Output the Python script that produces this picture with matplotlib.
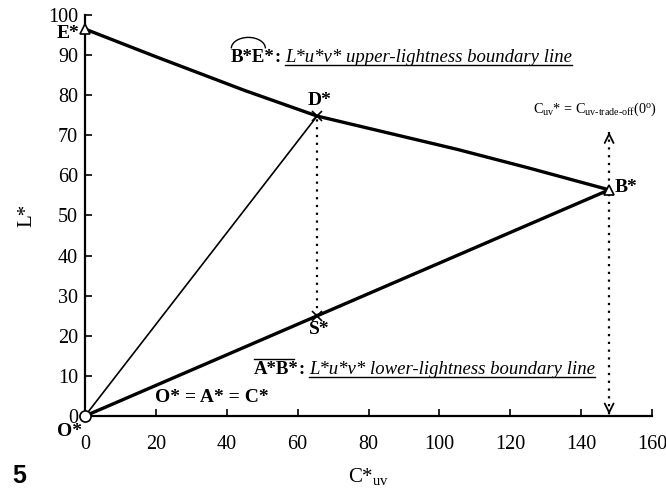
import matplotlib
matplotlib.use("Agg")
import matplotlib.pyplot as plt
from matplotlib.lines import Line2D
from matplotlib.patches import Arc

plt.rcParams['font.family'] = ['Liberation Serif', 'DejaVu Serif']
plt.rcParams['mathtext.fontset'] = 'custom'
plt.rcParams['mathtext.rm'] = 'Liberation Serif'
plt.rcParams['mathtext.it'] = 'Liberation Serif:italic'
plt.rcParams['mathtext.bf'] = 'Liberation Serif:bold'

# ---- data ----
upper_C = [0, 20, 45, 65.5, 85, 105, 125, 147.9]
upper_L = [96.5, 89.6, 81.2, 74.8, 70.7, 66.5, 61.9, 56.4]
lower_C = [0, 147.9]
lower_L = [0, 56.4]
OD_C = [0, 65.5]
OD_L = [0, 74.8]
point_names = ['E*', 'D*', 'B*', 'S*', 'O*']
point_C = [0, 65.5, 147.9, 65.5, 0]
point_L = [96.5, 74.8, 56.4, 24.9, 0]
tradeoff_C = 147.9
tradeoff_top = 70.8
xticks = [0, 20, 40, 60, 80, 100, 120, 140, 160]
yticks = [0, 10, 20, 30, 40, 50, 60, 70, 80, 90, 100]

fig = plt.figure(figsize=(6.66, 4.98), dpi=100)
ax = fig.add_axes([85/666, 1-416/498, (652-85)/666, (416-15)/498])
ax.set_xlim(0, 160)
ax.set_ylim(0, 100)
for s in ['top', 'right']:
    ax.spines[s].set_visible(False)
for s in ['left', 'bottom']:
    ax.spines[s].set_linewidth(1.6)
ax.set_xticks(xticks)
ax.set_yticks(yticks)
ax.tick_params(axis='both', direction='in', length=5, width=1.2, labelsize=14.5)
ax.tick_params(axis='x', pad=14)
ax.tick_params(axis='y', pad=5)

ax.plot(upper_C, upper_L, color='black', lw=2.4, solid_joinstyle='round', zorder=3)
ax.plot(lower_C, lower_L, color='black', lw=2.4, zorder=3)
ax.plot(OD_C, OD_L, color='black', lw=1.2, zorder=3)
# dotted D*-S*
ax.plot([point_C[1], point_C[3]], [point_L[3], point_L[1]], color='black', lw=1.6,
        ls=(0, (1, 2.5)), zorder=2)
# dotted trade-off line with arrows
ax.plot([tradeoff_C, tradeoff_C], [0.6, tradeoff_top], color='black', lw=1.6,
        ls=(0, (1, 2.5)), zorder=2)
ax.annotate('', xy=(tradeoff_C, tradeoff_top), xytext=(tradeoff_C, tradeoff_top - 0.3),
            arrowprops=dict(arrowstyle='->', lw=1.3, mutation_scale=16, color='black'))
ax.annotate('', xy=(tradeoff_C, 0.4), xytext=(tradeoff_C, 0.7),
            arrowprops=dict(arrowstyle='->', lw=1.3, mutation_scale=16, color='black'))

# markers
ax.plot([point_C[0], point_C[2]], [point_L[0], point_L[2]], ls='none', marker='^',
        ms=7, mfc='white', mec='black', mew=1.2, zorder=5, clip_on=False)
ax.plot([point_C[1], point_C[3]], [point_L[1], point_L[3]], ls='none', marker='x',
        ms=7, mec='black', mew=1.2, zorder=5)
ax.plot([point_C[4]], [point_L[4]], ls='none', marker='o', ms=8, mfc='white',
        mec='black', mew=1.2, zorder=5, clip_on=False)

bold = dict(fontweight='bold', fontsize=14, textcoords='offset pixels')
offsets = [(-6, -4, 'right', 'center'), (2, 7, 'center', 'bottom'),
           (6, 2, 'left', 'center'), (2, -5, 'center', 'top'),
           (-3, -7, 'right', 'top')]
for name, c, l, (dx, dy, ha, va) in zip(point_names, point_C, point_L, offsets):
    ax.annotate(name, xy=(c, l), xytext=(dx, dy), ha=ha, va=va, **bold)

ax.text(19.8, 4.7, 'O* = A* = C*', fontweight='bold', fontsize=14, ha='left', va='center')

# upper boundary label
t_be = ax.text(41.0, 89.3, 'B*E*', fontweight='bold', fontsize=13.5, ha='left', va='center')
t_bec = ax.annotate(':', xy=(1, 0.5), xycoords=t_be, xytext=(0, 0), textcoords='offset pixels',
                    fontweight='bold', fontsize=13.5, ha='left', va='center')
t_up = ax.annotate('L*u*v* upper-lightness boundary line', xy=(1, 0.5), xycoords=t_bec,
                   xytext=(5, 0), textcoords='offset pixels', style='italic', fontsize=13.5,
                   ha='left', va='center')
# lower boundary label
t_ab = ax.text(47.5, 11.6, 'A*B*', fontweight='bold', fontsize=13.5, ha='left', va='center')
t_abc = ax.annotate(':', xy=(1, 0.5), xycoords=t_ab, xytext=(0, 0), textcoords='offset pixels',
                    fontweight='bold', fontsize=13.5, ha='left', va='center')
t_lo = ax.annotate('L*u*v* lower-lightness boundary line', xy=(1, 0.5), xycoords=t_abc,
                   xytext=(5, 0), textcoords='offset pixels', style='italic', fontsize=13.5,
                   ha='left', va='center')

ax.text(143.9, 76.5,
        r'C$_{\rm uv}$* = C$_{\rm uv\text{-}trade\text{-}off}$(0$^{\rm o}$)',
        fontsize=10.3, ha='center', va='center')

ax.set_xlabel(r'C*$_{\rm uv}$', fontsize=15, labelpad=8)
ax.set_ylabel('L*', fontsize=15, labelpad=8)

fig.text(12/666, 1-488/498, '5', family='Liberation Sans', fontweight='bold', fontsize=18,
         ha='left', va='bottom')

fig.canvas.draw()
r = fig.canvas.get_renderer()
inv = fig.transFigure.inverted()

def fig_line(x0, y0, x1, y1, lw=1.0):
    (a, b), (c, d) = inv.transform([(x0, y0), (x1, y1)])
    fig.add_artist(Line2D([a, c], [b, d], color='black', lw=lw, transform=fig.transFigure))

for t in (t_up, t_lo):
    bb = t.get_window_extent(r)
    fig_line(bb.x0, bb.y0 + 1, bb.x1, bb.y0 + 1)

bb = t_ab.get_window_extent(r)
fig_line(bb.x0 + 1, bb.y1 + 2, bb.x1 - 4, bb.y1 + 2)

bb = t_be.get_window_extent(r)
w = (bb.x1 - bb.x0) * 0.78
cx, cy = inv.transform((bb.x0 + w / 2 + 1, bb.y1 + 1))
fw, fh = inv.transform((w, 22)) - inv.transform((0, 0))
fig.add_artist(Arc((cx, cy), fw, fh, theta1=0, theta2=180, color='black', lw=1.0,
                   transform=fig.transFigure))

fig.savefig('out.png', dpi=100)
